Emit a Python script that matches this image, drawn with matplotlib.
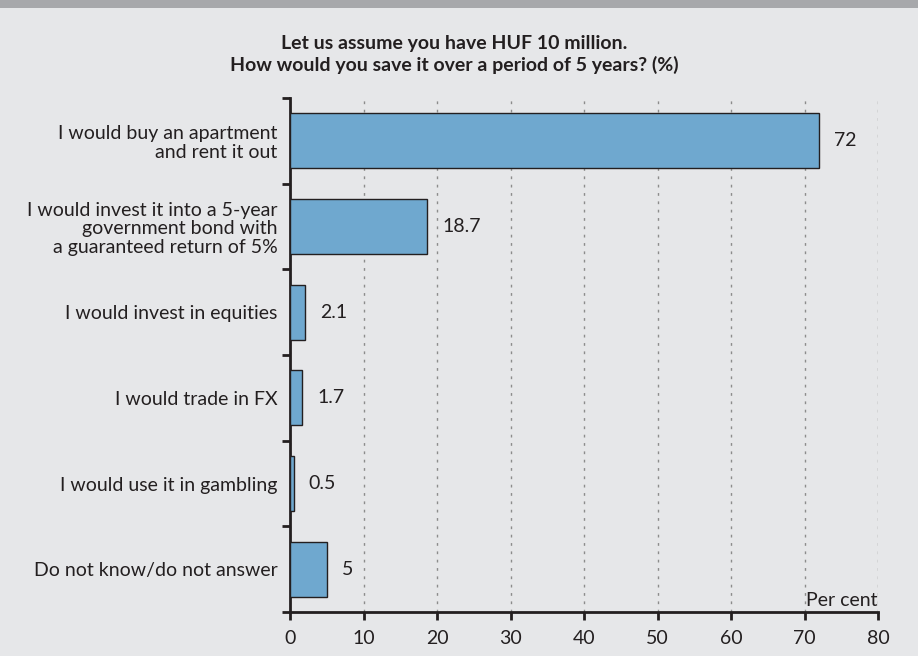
import matplotlib.pyplot as plt
from matplotlib.patches import Rectangle
import numpy as np

categories = ["I would buy an apartment\nand rent it out",
              "I would invest it into a 5-year\ngovernment bond with\na guaranteed return of 5%",
              "I would invest in equities",
              "I would trade in FX",
              "I would use it in gambling",
              "Do not know/do not answer"]
values = [72, 18.7, 2.1, 1.7, 0.5, 5]
value_labels = ["72", "18.7", "2.1", "1.7", "0.5", "5"]
xticks = [0, 10, 20, 30, 40, 50, 60, 70, 80]

plt.rcParams['font.family'] = ['Lato', 'DejaVu Sans']
bg = "#e6e7e9"
txt = "#231f20"

fig = plt.figure(figsize=(9.18, 6.56), dpi=100, facecolor=bg)
fig.patches.append(Rectangle((0, 1 - 8 / 656), 1, 8 / 656, transform=fig.transFigure,
                             facecolor="#a7a8ab", edgecolor="none"))
ax = fig.add_axes([290 / 918, 1 - 612 / 656, 588 / 918, 514 / 656])
ax.set_facecolor(bg)

y = np.arange(len(categories))
ax.barh(y, values, height=0.64, color="#6fa8cf", edgecolor="#231f20", linewidth=1.0, zorder=3)
for yi, v, lab in zip(y, values, value_labels):
    ax.text(v + 2.0, yi, lab, va="center", ha="left", fontsize=14, color=txt)

ax.set_xlim(0, 80)
ax.set_ylim(len(categories) - 0.5, -0.5)
ax.set_xticks(xticks)
ax.tick_params(axis="x", length=6, width=2, direction="out", labelsize=14, colors=txt, pad=7)
ax.set_yticks(y)
ax.set_yticklabels(categories, fontsize=14, color=txt, linespacing=1.12)
ax.set_yticks(np.arange(-0.5, len(categories), 1), minor=True)
ax.tick_params(axis="y", which="major", length=0, pad=9)
ax.tick_params(axis="y", which="minor", length=6, width=2, color=txt)
for lab in ax.get_yticklabels():
    lab.set_multialignment("right")

ax.grid(axis="x", linestyle=(0, (2, 4)), color="#8c8c8c", linewidth=1, zorder=0)
for s in ["top", "right"]:
    ax.spines[s].set_visible(False)
for s in ["left", "bottom"]:
    ax.spines[s].set_linewidth(2)
    ax.spines[s].set_color(txt)

ax.text(80, 5.47, "Per cent", ha="right", va="bottom", fontsize=14, color=txt)

fig.text(0.495, 1 - 44 / 656, "Let us assume you have HUF 10 million.", ha="center", va="center",
         fontsize=14, fontweight="bold", color=txt)
fig.text(0.495, 1 - 65 / 656, "How would you save it over a period of 5 years? (%)", ha="center", va="center",
         fontsize=14, fontweight="bold", color=txt)

fig.savefig("out.png", dpi=100, facecolor=bg)
